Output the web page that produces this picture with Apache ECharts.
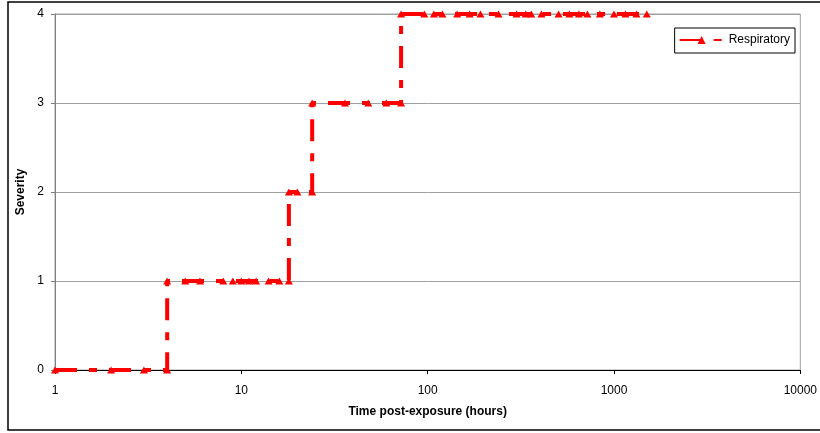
<!DOCTYPE html>
<html><head><meta charset="utf-8">
<script src="https://cdn.jsdelivr.net/npm/echarts@6/dist/echarts.min.js"></script>
<style>html,body{margin:0;padding:0;background:#fff}#c{width:820px;height:433px}</style>
</head><body><div id="c"></div>
<script>
var seriesName = 'Respiratory';
var hours = [1,2,3,4, 4,5,6,8,9,10,11,12,14,16,18, 18,20,24, 24,36,48,60,72,
  72,96,108,120,144,168,192,240,300,336,360,408,504,576,648,720,840,1000,1152,1320,1500];
var severity = [0,0,0,0, 1,1,1,1,1,1,1,1,1,1,1, 2,2,2, 3,3,3,3,3,
  4,4,4,4,4,4,4,4,4,4,4,4,4,4,4,4,4,4,4,4,4];
var xTicks = [1,10,100,1000,10000];
var yTicks = [0,1,2,3,4];
var data = hours.map(function(h,i){return [h, severity[i]];});
var chart = echarts.init(document.getElementById('c'), null, {renderer:'canvas'});
var font = 'Liberation Sans, Arial, sans-serif';
chart.setOption({
  animation:false,
  backgroundColor:'#fff',
  textStyle:{fontFamily:font},
  graphic:[{type:'rect', shape:{x:8,y:2,width:830,height:428}, style:{fill:'none',stroke:'#000',lineWidth:1.5}, z:-1}],
  grid:{left:55,right:18,top:14,bottom:63,show:true,borderColor:'#a0a0a0',borderWidth:1},
  legend:{data:[seriesName], right:25, top:28, orient:'vertical', borderColor:'#000', borderWidth:1,
    padding:[6,5,7,4], itemWidth:44, itemHeight:10, itemGap:0,
    textStyle:{fontFamily:font,fontSize:12,color:'#000'}},
  xAxis:{type:'log', logBase:10, min:xTicks[0], max:xTicks[xTicks.length-1],
    name:'Time post-exposure (hours)', nameLocation:'middle', nameGap:36,
    nameTextStyle:{fontFamily:font,fontSize:12,fontWeight:'bold',color:'#000'},
    axisLine:{lineStyle:{color:'#000',width:1}},
    axisTick:{show:true,length:4,inside:false,lineStyle:{color:'#000'}},
    minorTick:{show:false}, splitLine:{show:false},
    axisLabel:{margin:15,color:'#000',fontSize:12,fontFamily:font,formatter:function(v){return String(Math.round(v));}}},
  yAxis:{type:'value', min:yTicks[0], max:yTicks[yTicks.length-1], interval:1,
    name:'Severity', nameLocation:'middle', nameGap:28, nameRotate:90,
    nameTextStyle:{fontFamily:font,fontSize:12,fontWeight:'bold',color:'#000'},
    axisLine:{show:true,lineStyle:{color:'#808080',width:1}},
    axisTick:{show:true,length:4,lineStyle:{color:'#808080'}},
    splitLine:{show:true,lineStyle:{color:'#a0a0a0',width:1}},
    axisLabel:{margin:11,color:'#000',fontSize:12,fontFamily:font}},
  series:[{name:seriesName,type:'line',data:data,
    symbol:'triangle',symbolSize:[8,7],showSymbol:true,
    itemStyle:{color:'#ff0000'},
    lineStyle:{color:'#ff0000',width:4,type:[22,12,8,12]}}]
});
</script></body></html>
